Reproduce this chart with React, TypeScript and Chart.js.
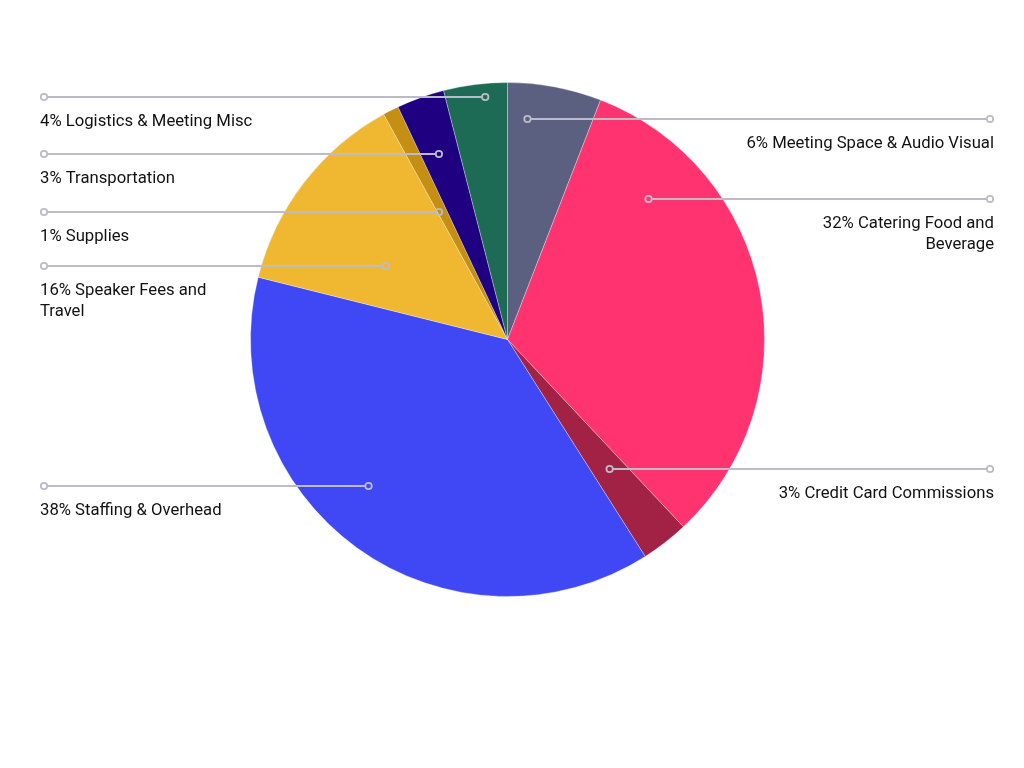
import React, { useEffect, useRef } from "react";
import { Chart, registerables } from "chart.js";

Chart.register(...registerables);

const categories = [
  "Meeting Space & Audio Visual",
  "Catering Food and Beverage",
  "Credit Card Commissions",
  "Staffing & Overhead",
  "Speaker Fees and Travel",
  "Supplies",
  "Transportation",
  "Logistics & Meeting Misc",
];
const values = [5.9, 32.1, 3.0, 37.9, 13.1, 1.0, 3.0, 4.0];
const labelPercents = ["6%", "32%", "3%", "38%", "16%", "1%", "3%", "4%"];
const labelLines = [
  ["6% Meeting Space & Audio Visual"],
  ["32% Catering Food and", "Beverage"],
  ["3% Credit Card Commissions"],
  ["38% Staffing & Overhead"],
  ["16% Speaker Fees and", "Travel"],
  ["1% Supplies"],
  ["3% Transportation"],
  ["4% Logistics & Meeting Misc"],
];
const colors = ["#5c6080", "#ff3370", "#a12244", "#3f48f4", "#f0b731", "#c48f12", "#1f0080", "#1e6b55"];
// anchor placement: fraction along slice angle, fraction of radius, side
const anchorT = [0.244, 0.207, 0.459, 0.556, 0.362, 0.17, 0.456, 0.635];
const anchorR = [0.86, 0.774, 0.642, 0.786, 0.553, 0.564, 0.77, 0.946];
const anchorSide = ["right", "right", "right", "left", "left", "left", "left", "left"];

const leaderPlugin = {
  id: "leaders",
  afterDatasetsDraw(chart: any) {
    const ctx = chart.ctx as CanvasRenderingContext2D;
    const meta = chart.getDatasetMeta(0);
    ctx.save();
    meta.data.forEach((arc: any, i: number) => {
      const { x, y, startAngle, endAngle, outerRadius } = arc.getProps(
        ["x", "y", "startAngle", "endAngle", "outerRadius"],
        true
      );
      const a = startAngle + (endAngle - startAngle) * anchorT[i];
      const r = outerRadius * anchorR[i];
      const px = x + Math.cos(a) * r;
      const py = Math.round(y + Math.sin(a) * r);
      const right = anchorSide[i] === "right";
      const ex = right ? 990 : 44;
      const sx = right ? px + 3.2 : px - 3.2;
      const sex = right ? ex - 3.2 : ex + 3.2;
      ctx.strokeStyle = "#bcbcc8";
      ctx.lineWidth = 2;
      ctx.beginPath();
      ctx.moveTo(sx, py);
      ctx.lineTo(sex, py);
      ctx.stroke();
      [px, ex].forEach((cx) => {
        ctx.beginPath();
        ctx.arc(cx, py, 3.2, 0, Math.PI * 2);
        ctx.lineWidth = 1.8;
        ctx.stroke();
      });
      ctx.fillStyle = "#111111";
      ctx.font = "16.7px Roboto";
      ctx.textBaseline = "middle";
      ctx.textAlign = right ? "right" : "left";
      const tx = right ? 994 : 40;
      labelLines[i].forEach((line, j) => {
        ctx.fillText(line, tx, py + 25 + j * 21);
      });
    });
    ctx.restore();
  },
};

export default function App() {
  const ref = useRef<HTMLCanvasElement>(null);
  useEffect(() => {
    document.body.style.margin = "0";
    const chart = new Chart(ref.current!, {
      type: "pie",
      data: {
        labels: categories.map((c, i) => labelPercents[i] + " " + c),
        datasets: [
          {
            data: values,
            backgroundColor: colors,
            borderColor: "rgba(255,255,255,0.3)",
            borderWidth: 1,
          },
        ],
      },
      options: {
        animation: false,
        responsive: false,
        maintainAspectRatio: false,
        layout: { padding: { left: 250, right: 259, top: 82, bottom: 171 } },
        plugins: {
          legend: { display: false },
          tooltip: { enabled: false },
        },
      },
      plugins: [leaderPlugin],
    });
    return () => chart.destroy();
  }, []);
  return (
    <div style={{ width: 1024, height: 768, background: "#fff" }}>
      <canvas ref={ref} width={1024} height={768} style={{ display: "block" }} />
    </div>
  );
}
